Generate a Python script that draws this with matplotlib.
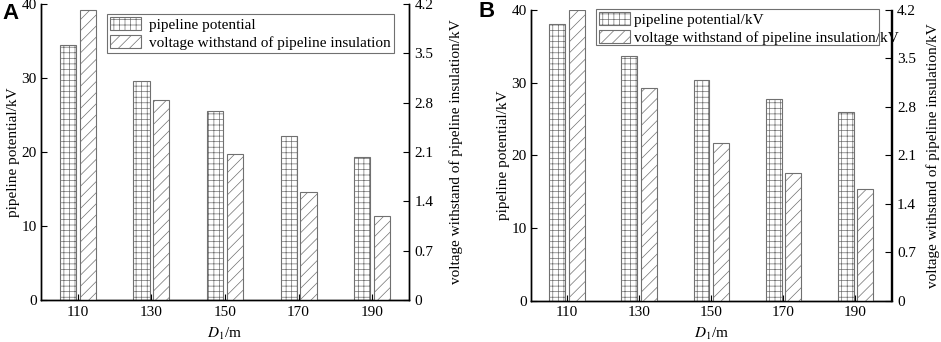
import numpy as np
import matplotlib.pyplot as plt
from matplotlib.patches import Patch, Rectangle

plt.rcParams['font.family'] = ['Liberation Serif', 'DejaVu Serif']
plt.rcParams['mathtext.fontset'] = 'stix'
plt.rcParams['hatch.linewidth'] = 0.5

categories = ['110', '130', '150', '170', '190']

# panel A
potential_a = [34.5, 29.55, 25.5, 22.2, 19.3]
withstand_a = [4.12, 2.84, 2.07, 1.53, 1.19]
# panel B
potential_b = [38.1, 33.7, 30.4, 27.75, 25.9]
withstand_b = [4.2, 3.07, 2.28, 1.85, 1.61]

left_ticks = [0, 10, 20, 30, 40]
right_ticks = [0, 0.7, 1.4, 2.1, 2.8, 3.5, 4.2]
right_labels = ['0', '0.7', '1.4', '2.1', '2.8', '3.5', '4.2']

W, H = 941, 342
fig = plt.figure(figsize=(W / 100, H / 100), dpi=100)

edge = '#707070'


def panel(rect, pot, wit, rpad):
    l, t, r, b = rect
    ax = fig.add_axes([l / W, (H - b) / H, (r - l) / W, (b - t) / H])
    ax2 = ax.twinx()
    x = np.arange(len(categories))
    w = 0.22
    ax.bar(x - 0.135, pot, w, facecolor='white', edgecolor=edge, hatch='+++', linewidth=0.8)
    ax2.bar(x + 0.135, wit, w, facecolor='white', edgecolor=edge, hatch='///', linewidth=0.8)
    ax.set_xlim(-0.5, 4.5)
    ax.set_ylim(0, 40)
    ax2.set_ylim(0, 4.2)
    ax.set_xticks(x)
    ax.set_xticklabels(categories)
    ax.set_yticks(left_ticks)
    ax2.set_yticks(right_ticks)
    ax2.set_yticklabels(right_labels)
    for a in (ax, ax2):
        a.spines['top'].set_visible(False)
        for s in a.spines.values():
            s.set_linewidth(1.0)
        a.tick_params(direction='in', length=4, width=0.8, labelsize=11, pad=4)
    ax.tick_params(axis='y', pad=3)
    ax.set_xlabel(r'$D_\mathrm{1}$/m', fontsize=11, labelpad=5)
    ax.set_ylabel('pipeline potential/kV', fontsize=11, labelpad=1)
    ax2.set_ylabel('voltage withstand of pipeline insulation/kV', fontsize=11, labelpad=rpad)
    return ax, ax2


def handles():
    return [Patch(facecolor='white', edgecolor=edge, hatch='+++', linewidth=0.8),
            Patch(facecolor='white', edgecolor=edge, hatch='///', linewidth=0.8)]


# panel A
axa, axa2 = panel((41, 4, 409, 300), potential_a, withstand_a, 11)
leg = axa2.legend(handles(), ['pipeline potential', 'voltage withstand of pipeline insulation'],
                  loc='upper right', bbox_to_anchor=(0.959, 0.966), borderaxespad=0,
                  fancybox=False, edgecolor=edge, fontsize=11, handlelength=2.0,
                  handleheight=0.95, handletextpad=0.55, labelspacing=0.2,
                  borderpad=0.2, framealpha=1)
leg.get_frame().set_linewidth(0.8)

# panel B (legend text runs past its frame in the original)
axb, axb2 = panel((531, 10, 891.5, 300.7), potential_b, withstand_b, 7)
axb2.legend(handles(), ['pipeline potential/kV', 'voltage withstand of pipeline insulation/kV'],
            loc='upper left', bbox_to_anchor=((596 - 531) / 360.5, (300.7 - 9) / 290.7),
            borderaxespad=0, frameon=False, fontsize=11, handlelength=2.0,
            handleheight=0.95, handletextpad=0.3, labelspacing=0.2, borderpad=0.2)
fig.patches.append(Rectangle((596 / W, 1 - 45 / H), (879 - 596) / W, 36 / H,
                             transform=fig.transFigure, fill=False,
                             edgecolor=edge, linewidth=0.8))

fig.text(2 / W, 1 - 3 / H, 'A', family='Liberation Sans', fontweight='bold',
         fontsize=16, va='top', ha='left')
fig.text(478 / W, 1 - 1 / H, 'B', family='Liberation Sans', fontweight='bold',
         fontsize=16, va='top', ha='left')

fig.savefig('out.png', dpi=100)
